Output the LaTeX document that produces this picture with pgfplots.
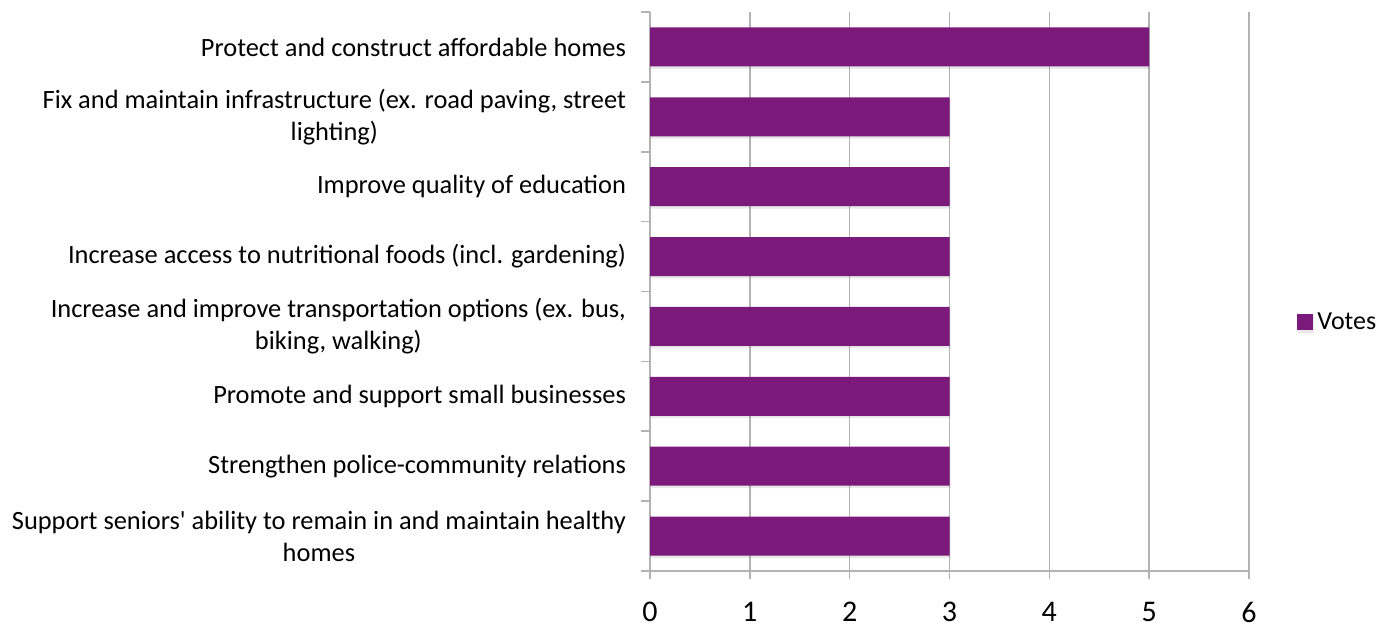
\documentclass[border=0pt]{standalone}
\usepackage{pgfplots}
\pgfplotsset{compat=1.18}
\usepackage{fontspec}
\setmainfont{Carlito}
\usetikzlibrary{shadows}
\definecolor{barcol}{RGB}{123,26,122}
\definecolor{gridcol}{RGB}{178,178,178}
\begin{document}
\begin{tikzpicture}
\path[use as bounding box] (0pt,0pt) rectangle (697.5pt,314.5pt);
\begin{axis}[
  at={(325pt,29pt)}, anchor=south west,
  scale only axis, width=299.5pt, height=279.5pt,
  xmin=0, xmax=6, ymin=0.5, ymax=8.5,
  axis lines*=left,
  axis line style={draw=gridcol, line width=0.8pt},
  xtick={0,...,6},
  xmajorgrids, grid style={draw=gridcol, line width=0.8pt},
  tick style={draw=gridcol, line width=0.8pt},
  tick align=outside,
  major tick length=4pt,
  /pgf/number format/assume math mode=true,
  xticklabel style={font=\fontsize{15}{17}\selectfont, yshift=-10.5pt, inner sep=1pt},
  ytick={1,...,8},
  yticklabels={{Support seniors\textquotesingle\ ability to remain in and maintain healthy\\homes},
    {Strengthen police-community relations},
    {Promote and support small businesses},
    {Increase and improve transportation options (ex. bus,\\biking, walking)},
    {Increase access to nutritional foods (incl. gardening)},
    {Improve quality of education},
    {Fix and maintain infrastructure (ex. road paving, street\\lighting)},
    {Protect and construct affordable homes}},
  yticklabel style={font=\fontsize{13.2}{16}\selectfont, align=center, xshift=-4.5pt},
  major y tick style={draw=none},
  minor ytick={0.5,1.5,...,8.5},
  minor tick length=4.5pt,
  minor y tick style={draw=gridcol, line width=0.8pt},
  legend style={at={(1.08,0.445)}, anchor=west, draw=none, fill=none,
    font=\fontsize{13}{15}\selectfont, inner sep=0pt},
  legend cell align=left,
]
\addplot[xbar, bar width=19.5pt, fill=barcol, draw=none,
  drop shadow={shadow xshift=0.5pt, shadow yshift=-1.2pt, opacity=0.18},
  legend image code/.code={\fill[barcol] (0pt,-4pt) rectangle (8pt,4pt);}]
  coordinates {(3,1) (3,2) (3,3) (3,4) (3,5) (3,6) (3,7) (5,8)};
\addlegendentry{Votes}
\end{axis}
\end{tikzpicture}
\end{document}
